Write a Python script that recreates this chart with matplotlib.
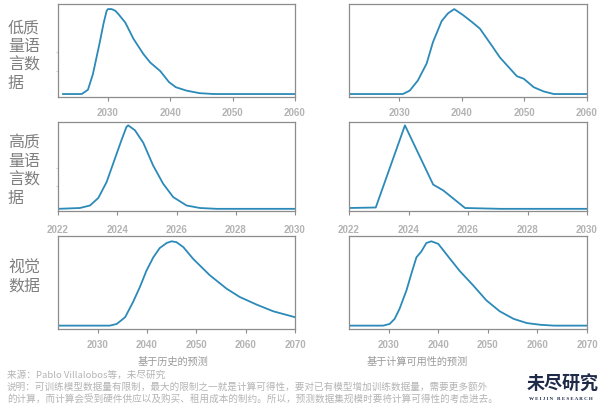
import matplotlib
matplotlib.use("Agg")
import matplotlib.pyplot as plt

plt.rcParams['font.family'] = ['Noto Sans CJK SC', 'DejaVu Sans']

line_colour = "#2b8ab8"
spine_colour = "#8c8c8c"
tick_colour = "#b3b3b3"
label_colour = "#7f7f7f"
note_colour = "#b4b4b4"

# 低质量语言数据 - 基于历史
lq_hist_years = [2022.8, 2025.8, 2026.8, 2027.6, 2028.7, 2029.3, 2029.8, 2030.0, 2030.6, 2031.2,
                 2031.7, 2032.8, 2034.1, 2035.7, 2036.8, 2038.4, 2039.8, 2040.9, 2042.6,
                 2044.7, 2047.0, 2060.0]
lq_hist_vals = [0, 0, 0.05, 0.235, 0.61, 0.83, 0.98, 1.0, 1.0, 0.98,
                0.94, 0.84, 0.65, 0.47, 0.37, 0.27, 0.14, 0.08, 0.04,
                0.01, 0, 0]
# 低质量语言数据 - 基于计算可用性
lq_comp_years = [2022.0, 2030.6, 2031.7, 2033.0, 2034.4, 2035.4, 2036.8, 2037.8, 2038.8,
                 2040.2, 2041.6, 2042.9, 2044.8, 2046.1, 2047.7, 2048.8, 2049.9, 2051.5,
                 2053.1, 2054.7, 2060.0]
lq_comp_vals = [0, 0, 0.04, 0.16, 0.36, 0.61, 0.86, 0.95, 1.0,
                0.93, 0.85, 0.77, 0.57, 0.43, 0.30, 0.21, 0.18, 0.08,
                0.03, 0, 0]
# 高质量语言数据 - 基于历史
hq_hist_years = [2022.0, 2022.74, 2023.08, 2023.36, 2023.64, 2023.92, 2024.15, 2024.31, 2024.37,
                 2024.6, 2024.88, 2025.21, 2025.55, 2025.89, 2026.34, 2026.79, 2027.35, 2030.0]
hq_hist_vals = [0, 0.01, 0.04, 0.13, 0.32, 0.60, 0.83, 0.98, 1.0,
                0.94, 0.79, 0.52, 0.30, 0.14, 0.04, 0.01, 0, 0]
# 高质量语言数据 - 基于计算可用性
hq_comp_years = [2022.0, 2022.3, 2022.9, 2023.88, 2024.83, 2025.17, 2025.9, 2027.1, 2030.0]
hq_comp_vals = [0.01, 0.012, 0.016, 1.0, 0.29, 0.22, 0.01, 0.0, 0.0]
# 视觉数据 - 基于历史
vis_hist_years = [2022.0, 2032.5, 2033.9, 2035.6, 2037.2, 2038.6, 2039.9, 2041.3, 2042.6,
                  2044.0, 2045.0, 2046.0, 2047.4, 2049.4, 2052.7, 2056.1, 2058.8, 2062.2,
                  2065.6, 2070.0]
vis_hist_vals = [0, 0, 0.02, 0.10, 0.28, 0.46, 0.65, 0.81, 0.92,
                 0.98, 1.0, 0.99, 0.93, 0.79, 0.60, 0.44, 0.34, 0.25,
                 0.17, 0.10]
# 视觉数据 - 基于计算可用性
vis_comp_years = [2022.0, 2028.9, 2030.2, 2031.2, 2032.2, 2033.6, 2034.6, 2035.6, 2036.6,
                  2037.6, 2038.6, 2040.0, 2041.6, 2044.3, 2047.0, 2049.7, 2052.4, 2055.2,
                  2057.9, 2060.6, 2063.3, 2070.0]
vis_comp_vals = [0, 0, 0.02, 0.08, 0.20, 0.42, 0.62, 0.81, 0.88,
                 0.98, 1.0, 0.97, 0.85, 0.65, 0.48, 0.30, 0.17, 0.08,
                 0.03, 0.01, 0, 0]

row_labels = ["低质\n量语\n言数\n据", "高质\n量语\n言数\n据", "视觉\n数据"]
row_xlims = [(2022, 2060), (2022, 2030), (2022, 2070)]
row_xticks = [[2030, 2040, 2050, 2060], [2022, 2024, 2026, 2028, 2030],
              [2030, 2040, 2050, 2060, 2070]]
col_titles = ["基于历史的预测", "基于计算可用性的预测"]

series = [[(lq_hist_years, lq_hist_vals), (lq_comp_years, lq_comp_vals)],
          [(hq_hist_years, hq_hist_vals), (hq_comp_years, hq_comp_vals)],
          [(vis_hist_years, vis_hist_vals), (vis_comp_years, vis_comp_vals)]]

W, H = 601, 410
fig = plt.figure(figsize=(W / 100, H / 100), dpi=100)

col_x = [(58, 295), (349, 587)]
row_y = [(5, 98), (123, 211.5), (237, 330)]
row_ylim = [(-0.035, 1.06), (-0.02, 1.04), (-0.04, 1.063)]
row_pad = [4.5, 6.5, 4.5]
row_label_y = [56, 171, 277]

for r in range(3):
    for c in range(2):
        x0, x1 = col_x[c]
        y0, y1 = row_y[r]
        ax = fig.add_axes([x0 / W, 1 - y1 / H, (x1 - x0) / W, (y1 - y0) / H])
        xs, ys = series[r][c]
        ax.plot(xs, ys, color=line_colour, lw=1.3, solid_joinstyle='round')
        ax.set_xlim(*row_xlims[r])
        ax.set_ylim(*row_ylim[r])
        ax.set_xticks(row_xticks[r])
        ax.tick_params(axis='x', direction='out', length=3, width=0.8,
                       color=spine_colour, labelcolor=tick_colour,
                       labelsize=7, pad=row_pad[r])
        for lab in ax.get_xticklabels():
            lab.set_fontfamily(['Liberation Sans', 'DejaVu Sans'])
            lab.set_fontweight('bold')
        if c == 0 and r < 2:
            ax.set_yticks([0.27, 0.49])
            ax.tick_params(axis='y', length=1.5, width=0.8, color='#d0d0d0',
                           labelleft=False)
        else:
            ax.set_yticks([])
        for s in ax.spines.values():
            s.set_color(spine_colour)
            s.set_linewidth(0.9)
    fig.text(8 / W, 1 - row_label_y[r] / H, row_labels[r], fontsize=11.5,
             color=label_colour, ha='left', va='center', linespacing=1.12)

fig.text(173 / W, 1 - 362 / H, col_titles[0], fontsize=7.3, color='#9a9a9a',
         ha='center', va='center')
fig.text(417 / W, 1 - 362 / H, col_titles[1], fontsize=7.3, color='#9a9a9a',
         ha='center', va='center')

notes = ["来源：Pablo Villalobos等，未尽研究",
         "说明：可训练模型数据量有限制，最大的限制之一就是计算可得性，要对已有模型增加训练数据量，需要更多额外",
         "的计算，而计算会受到硬件供应以及购买、租用成本的制约。所以，预测数据集规模时要将计算可得性的考虑进去。"]
for i, t in enumerate(notes):
    fig.text(7 / W, 1 - (375 + i * 12) / H, t, fontsize=6.9, color=note_colour,
             ha='left', va='center')

fig.text(527 / W, 1 - 384 / H, "未尽研究", fontsize=13, fontweight='bold',
         color='#1e2a48', ha='left', va='center')
fig.text(529 / W, 1 - 399 / H, "W E I J I N   R E S E A R C H", fontsize=3.6,
         family='Liberation Serif', fontweight='bold', color='#1e2a48',
         ha='left', va='center')

fig.savefig("out.png", dpi=100, facecolor='white')
